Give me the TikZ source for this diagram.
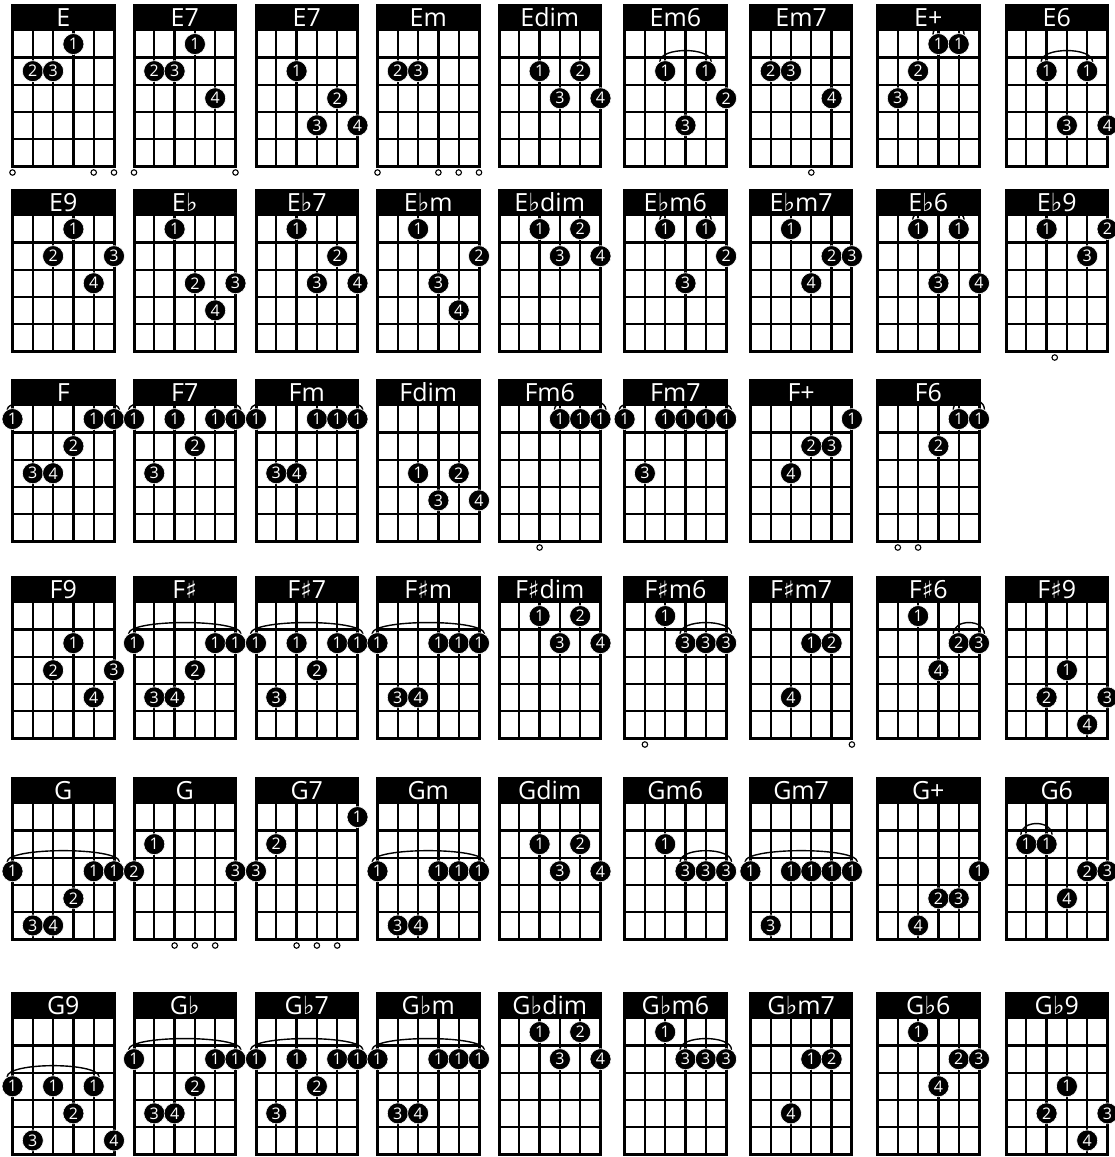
\documentclass[tikz,border=0pt]{standalone}
\usepackage{fontspec}
\setmainfont{Open Sans}
\newfontfamily\musicfont{DejaVu Sans}
\pgfdeclarelayer{arcs}
\pgfsetlayers{arcs,main}
\newcommand{\boxw}{101.5}
\newcommand{\boxh}{161}
\newcommand{\headh}{25.5}
\newcommand{\fretsp}{27.1}
\newcommand{\strsp}{20.3}
\newcommand{\chflat}{{\musicfont\fontsize{25}{25}\selectfont ♭}}
\newcommand{\chsharp}{{\musicfont\fontsize{24}{24}\selectfont ♯}}
\newcommand{\chordgrid}[4]{%
  \fill[chordhead] (#2,#3) rectangle ++(\boxw,\headh);
  \foreach \s in {1,...,4}
    \draw[fretline] ({#2+\s*\strsp},{#3+\headh}) -- ++(0,{5*\fretsp});
  \foreach \f in {1,...,4}
    \draw[fretline] (#2,{#3+\headh+\f*\fretsp}) -- ++(\boxw,0);
  \draw[chordframe] (#2,#3) rectangle ++(\boxw,\boxh);
  \node[chordname] (#1) at ({#2+\boxw/2},{#3+\headh-4.2}) {#4};
  \xdef\gx{#2}\xdef\gy{#3}}
\newcommand{\fing}[4]{\node[fingerdot] (#1) at ({\gx+(#2-1)*\strsp},{\gy+\headh+(#3-0.5)*\fretsp}) {#4};}
\newcommand{\opn}[2]{\node[openstring] (#1) at ({\gx+(#2-1)*\strsp},{\gy+\boxh+6.5}) {};}
\newcommand{\barre}[2]{\begin{pgfonlayer}{arcs}\draw[barrearc] (#1.120) .. controls +(0,-15) and +(0,-15) .. (#2.60);\end{pgfonlayer}}

\begin{document}
\begin{tikzpicture}[
    x=1pt, y=-1pt,
    chordhead/.style={fill=black},
    fretline/.style={line width=2.3pt},
    chordframe/.style={line width=3pt},
    chordname/.style={anchor=base, inner sep=0pt, text=white, font=\fontsize{25}{25}\selectfont},
    fingerdot/.style={circle, fill=black, draw=white, line width=0.6pt, minimum size=21pt, inner sep=0pt, text=white, font=\fontsize{16}{16}\selectfont},
    openstring/.style={circle, draw=black, fill=white, line width=1.1pt, minimum size=5.5pt, inner sep=0pt},
    barrearc/.style={line width=1.4pt}
  ]
  \useasboundingbox (0,0) rectangle (1115,1157);

  \chordgrid{e}{12.5}{5}{E}
  \fing{e-1}{4}{1}{1} \fing{e-2}{2}{2}{2} \fing{e-3}{3}{2}{3}
  \opn{e-o1}{1} \opn{e-o5}{5} \opn{e-o6}{6}

  \chordgrid{esev}{134}{5}{E7}
  \fing{esev-1}{4}{1}{1} \fing{esev-2}{2}{2}{2} \fing{esev-3}{3}{2}{3} \fing{esev-4}{5}{3}{4}
  \opn{esev-o1}{1} \opn{esev-o6}{6}

  \chordgrid{esevb}{256}{5}{E7}
  \fing{esevb-1}{3}{2}{1} \fing{esevb-2}{5}{3}{2} \fing{esevb-3}{4}{4}{3} \fing{esevb-4}{6}{4}{4}

  \chordgrid{em}{377.5}{5}{Em}
  \fing{em-2}{2}{2}{2} \fing{em-3}{3}{2}{3}
  \opn{em-o1}{1} \opn{em-o4}{4} \opn{em-o5}{5} \opn{em-o6}{6}

  \chordgrid{edim}{499}{5}{Edim}
  \fing{edim-1}{3}{2}{1} \fing{edim-2}{5}{2}{2} \fing{edim-3}{4}{3}{3} \fing{edim-4}{6}{3}{4}

  \chordgrid{emsix}{624.6}{5}{Em6}
  \fing{emsix-1a}{3}{2}{1} \fing{emsix-1b}{5}{2}{1} \barre{emsix-1a}{emsix-1b}
  \fing{emsix-2}{6}{3}{2} \fing{emsix-3}{4}{4}{3}

  \chordgrid{emsev}{750.4}{5}{Em7}
  \fing{emsev-2}{2}{2}{2} \fing{emsev-3}{3}{2}{3} \fing{emsev-4}{5}{3}{4}
  \opn{emsev-o4}{4}

  \chordgrid{eaug}{877.5}{5}{E+}
  \fing{eaug-1a}{4}{1}{1} \fing{eaug-1b}{5}{1}{1} \barre{eaug-1a}{eaug-1b}
  \fing{eaug-2}{3}{2}{2} \fing{eaug-3}{2}{3}{3}

  \chordgrid{esix}{1006}{5}{E6}
  \fing{esix-1a}{3}{2}{1} \fing{esix-1b}{5}{2}{1} \barre{esix-1a}{esix-1b}
  \fing{esix-3}{4}{4}{3} \fing{esix-4}{6}{4}{4}

  \chordgrid{enine}{12.5}{190}{E9}
  \fing{enine-1}{4}{1}{1} \fing{enine-2}{3}{2}{2} \fing{enine-3}{6}{2}{3} \fing{enine-4}{5}{3}{4}

  \chordgrid{eb}{134}{190}{E\chflat}
  \fing{eb-1}{3}{1}{1} \fing{eb-2}{4}{3}{2} \fing{eb-3}{6}{3}{3} \fing{eb-4}{5}{4}{4}

  \chordgrid{ebsev}{256}{190}{E\chflat7}
  \fing{ebsev-1}{3}{1}{1} \fing{ebsev-2}{5}{2}{2} \fing{ebsev-3}{4}{3}{3} \fing{ebsev-4}{6}{3}{4}

  \chordgrid{ebm}{377.5}{190}{E\chflat{}m}
  \fing{ebm-1}{3}{1}{1} \fing{ebm-2}{6}{2}{2} \fing{ebm-3}{4}{3}{3} \fing{ebm-4}{5}{4}{4}

  \chordgrid{ebdim}{499}{190}{E\chflat{}dim}
  \fing{ebdim-1}{3}{1}{1} \fing{ebdim-2}{5}{1}{2} \fing{ebdim-3}{4}{2}{3} \fing{ebdim-4}{6}{2}{4}

  \chordgrid{ebmsix}{624.6}{190}{E\chflat{}m6}
  \fing{ebmsix-1a}{3}{1}{1} \fing{ebmsix-1b}{5}{1}{1} \barre{ebmsix-1a}{ebmsix-1b}
  \fing{ebmsix-2}{6}{2}{2} \fing{ebmsix-3}{4}{3}{3}

  \chordgrid{ebmsev}{750.4}{190}{E\chflat{}m7}
  \fing{ebmsev-1}{3}{1}{1} \fing{ebmsev-2}{5}{2}{2} \fing{ebmsev-3}{6}{2}{3} \fing{ebmsev-4}{4}{3}{4}

  \chordgrid{ebsix}{877.5}{190}{E\chflat6}
  \fing{ebsix-1a}{3}{1}{1} \fing{ebsix-1b}{5}{1}{1} \barre{ebsix-1a}{ebsix-1b}
  \fing{ebsix-3}{4}{3}{3} \fing{ebsix-4}{6}{3}{4}

  \chordgrid{ebnine}{1006}{190}{E\chflat9}
  \fing{ebnine-1}{3}{1}{1} \fing{ebnine-2}{6}{1}{2} \fing{ebnine-3}{5}{2}{3}
  \opn{ebnine-o}{3.4}

  \chordgrid{f}{12.5}{380}{F}
  \fing{f-1a}{1}{1}{1} \fing{f-1b}{5}{1}{1} \fing{f-1c}{6}{1}{1} \barre{f-1a}{f-1c}
  \fing{f-2}{4}{2}{2} \fing{f-3}{2}{3}{3} \fing{f-4}{3}{3}{4}

  \chordgrid{fsev}{134}{380}{F7}
  \fing{fsev-1a}{1}{1}{1} \fing{fsev-1b}{3}{1}{1} \fing{fsev-1c}{5}{1}{1} \fing{fsev-1d}{6}{1}{1} \barre{fsev-1a}{fsev-1d}
  \fing{fsev-2}{4}{2}{2} \fing{fsev-3}{2}{3}{3}

  \chordgrid{fm}{256}{380}{Fm}
  \fing{fm-1a}{1}{1}{1} \fing{fm-1b}{4}{1}{1} \fing{fm-1c}{5}{1}{1} \fing{fm-1d}{6}{1}{1} \barre{fm-1a}{fm-1d}
  \fing{fm-3}{2}{3}{3} \fing{fm-4}{3}{3}{4}

  \chordgrid{fdim}{377.5}{380}{Fdim}
  \fing{fdim-1}{3}{3}{1} \fing{fdim-2}{5}{3}{2} \fing{fdim-3}{4}{4}{3} \fing{fdim-4}{6}{4}{4}

  \chordgrid{fmsix}{499}{380}{Fm6}
  \fing{fmsix-1a}{4}{1}{1} \fing{fmsix-1b}{5}{1}{1} \fing{fmsix-1c}{6}{1}{1} \barre{fmsix-1a}{fmsix-1c}
  \opn{fmsix-o3}{3}

  \chordgrid{fmsev}{624.6}{380}{Fm7}
  \fing{fmsev-1a}{1}{1}{1} \fing{fmsev-1b}{3}{1}{1} \fing{fmsev-1c}{4}{1}{1} \fing{fmsev-1d}{5}{1}{1} \fing{fmsev-1e}{6}{1}{1} \barre{fmsev-1a}{fmsev-1e}
  \fing{fmsev-3}{2}{3}{3}

  \chordgrid{faug}{750.4}{380}{F+}
  \fing{faug-1}{6}{1}{1} \fing{faug-2}{4}{2}{2} \fing{faug-3}{5}{2}{3} \fing{faug-4}{3}{3}{4}

  \chordgrid{fsix}{877.5}{380}{F6}
  \fing{fsix-1a}{5}{1}{1} \fing{fsix-1b}{6}{1}{1} \barre{fsix-1a}{fsix-1b}
  \fing{fsix-2}{4}{2}{2}
  \opn{fsix-o2}{2} \opn{fsix-o3}{3}

  \chordgrid{fnine}{12.5}{577}{F9}
  \fing{fnine-1}{4}{2}{1} \fing{fnine-2}{3}{3}{2} \fing{fnine-3}{6}{3}{3} \fing{fnine-4}{5}{4}{4}

  \chordgrid{fs}{134}{577}{F\chsharp}
  \fing{fs-1a}{1}{2}{1} \fing{fs-1b}{5}{2}{1} \fing{fs-1c}{6}{2}{1} \barre{fs-1a}{fs-1c}
  \fing{fs-2}{4}{3}{2} \fing{fs-3}{2}{4}{3} \fing{fs-4}{3}{4}{4}

  \chordgrid{fssev}{256}{577}{F\chsharp7}
  \fing{fssev-1a}{1}{2}{1} \fing{fssev-1b}{3}{2}{1} \fing{fssev-1c}{5}{2}{1} \fing{fssev-1d}{6}{2}{1} \barre{fssev-1a}{fssev-1d}
  \fing{fssev-2}{4}{3}{2} \fing{fssev-3}{2}{4}{3}

  \chordgrid{fsm}{377.5}{577}{F\chsharp{}m}
  \fing{fsm-1a}{1}{2}{1} \fing{fsm-1b}{4}{2}{1} \fing{fsm-1c}{5}{2}{1} \fing{fsm-1d}{6}{2}{1} \barre{fsm-1a}{fsm-1d}
  \fing{fsm-3}{2}{4}{3} \fing{fsm-4}{3}{4}{4}

  \chordgrid{fsdim}{499}{577}{F\chsharp{}dim}
  \fing{fsdim-1}{3}{1}{1} \fing{fsdim-2}{5}{1}{2} \fing{fsdim-3}{4}{2}{3} \fing{fsdim-4}{6}{2}{4}

  \chordgrid{fsmsix}{624.6}{577}{F\chsharp{}m6}
  \fing{fsmsix-1}{3}{1}{1}
  \fing{fsmsix-3a}{4}{2}{3} \fing{fsmsix-3b}{5}{2}{3} \fing{fsmsix-3c}{6}{2}{3} \barre{fsmsix-3a}{fsmsix-3c}
  \opn{fsmsix-o2}{2}

  \chordgrid{fsmsev}{750.4}{577}{F\chsharp{}m7}
  \fing{fsmsev-1}{4}{2}{1} \fing{fsmsev-2}{5}{2}{2} \fing{fsmsev-4}{3}{4}{4}
  \opn{fsmsev-o6}{6}

  \chordgrid{fssix}{877.5}{577}{F\chsharp6}
  \fing{fssix-1}{3}{1}{1} \fing{fssix-2}{5}{2}{2} \fing{fssix-3}{6}{2}{3} \barre{fssix-2}{fssix-3}
  \fing{fssix-4}{4}{3}{4}

  \chordgrid{fsnine}{1006}{577}{F\chsharp9}
  \fing{fsnine-1}{4}{3}{1} \fing{fsnine-2}{3}{4}{2} \fing{fsnine-3}{6}{4}{3} \fing{fsnine-4}{5}{5}{4}

  \chordgrid{g}{12.5}{778}{G}
  \fing{g-1a}{1}{3}{1} \fing{g-1b}{5}{3}{1} \fing{g-1c}{6}{3}{1} \barre{g-1a}{g-1c}
  \fing{g-2}{4}{4}{2} \fing{g-3}{2}{5}{3} \fing{g-4}{3}{5}{4}

  \chordgrid{gopen}{134}{778}{G}
  \fing{gopen-1}{2}{2}{1} \fing{gopen-2}{1}{3}{2} \fing{gopen-3}{6}{3}{3}
  \opn{gopen-o3}{3} \opn{gopen-o4}{4} \opn{gopen-o5}{5}

  \chordgrid{gsev}{256}{778}{G7}
  \fing{gsev-1}{6}{1}{1} \fing{gsev-2}{2}{2}{2} \fing{gsev-3}{1}{3}{3}
  \opn{gsev-o3}{3} \opn{gsev-o4}{4} \opn{gsev-o5}{5}

  \chordgrid{gm}{377.5}{778}{Gm}
  \fing{gm-1a}{1}{3}{1} \fing{gm-1b}{4}{3}{1} \fing{gm-1c}{5}{3}{1} \fing{gm-1d}{6}{3}{1} \barre{gm-1a}{gm-1d}
  \fing{gm-3}{2}{5}{3} \fing{gm-4}{3}{5}{4}

  \chordgrid{gdim}{499}{778}{Gdim}
  \fing{gdim-1}{3}{2}{1} \fing{gdim-2}{5}{2}{2} \fing{gdim-3}{4}{3}{3} \fing{gdim-4}{6}{3}{4}

  \chordgrid{gmsix}{624.6}{778}{Gm6}
  \fing{gmsix-1}{3}{2}{1}
  \fing{gmsix-3a}{4}{3}{3} \fing{gmsix-3b}{5}{3}{3} \fing{gmsix-3c}{6}{3}{3} \barre{gmsix-3a}{gmsix-3c}

  \chordgrid{gmsev}{750.4}{778}{Gm7}
  \fing{gmsev-1a}{1}{3}{1} \fing{gmsev-1b}{3}{3}{1} \fing{gmsev-1c}{4}{3}{1} \fing{gmsev-1d}{5}{3}{1} \fing{gmsev-1e}{6}{3}{1} \barre{gmsev-1a}{gmsev-1e}
  \fing{gmsev-3}{2}{5}{3}

  \chordgrid{gaug}{877.5}{778}{G+}
  \fing{gaug-1}{6}{3}{1} \fing{gaug-2}{4}{4}{2} \fing{gaug-3}{5}{4}{3} \fing{gaug-4}{3}{5}{4}

  \chordgrid{gsix}{1006}{778}{G6}
  \fing{gsix-1a}{2}{2}{1} \fing{gsix-1b}{3}{2}{1} \barre{gsix-1a}{gsix-1b}
  \fing{gsix-2}{5}{3}{2} \fing{gsix-3}{6}{3}{3} \fing{gsix-4}{4}{4}{4}

  \chordgrid{gnine}{12.5}{993}{G9}
  \fing{gnine-1a}{1}{3}{1} \fing{gnine-1b}{3}{3}{1} \fing{gnine-1c}{5}{3}{1} \barre{gnine-1a}{gnine-1c}
  \fing{gnine-2}{4}{4}{2} \fing{gnine-3}{2}{5}{3} \fing{gnine-4}{6}{5}{4}

  \chordgrid{gb}{134}{993}{G\chflat}
  \fing{gb-1a}{1}{2}{1} \fing{gb-1b}{5}{2}{1} \fing{gb-1c}{6}{2}{1} \barre{gb-1a}{gb-1c}
  \fing{gb-2}{4}{3}{2} \fing{gb-3}{2}{4}{3} \fing{gb-4}{3}{4}{4}

  \chordgrid{gbsev}{256}{993}{G\chflat7}
  \fing{gbsev-1a}{1}{2}{1} \fing{gbsev-1b}{3}{2}{1} \fing{gbsev-1c}{5}{2}{1} \fing{gbsev-1d}{6}{2}{1} \barre{gbsev-1a}{gbsev-1d}
  \fing{gbsev-2}{4}{3}{2} \fing{gbsev-3}{2}{4}{3}

  \chordgrid{gbm}{377.5}{993}{G\chflat{}m}
  \fing{gbm-1a}{1}{2}{1} \fing{gbm-1b}{4}{2}{1} \fing{gbm-1c}{5}{2}{1} \fing{gbm-1d}{6}{2}{1} \barre{gbm-1a}{gbm-1d}
  \fing{gbm-3}{2}{4}{3} \fing{gbm-4}{3}{4}{4}

  \chordgrid{gbdim}{499}{993}{G\chflat{}dim}
  \fing{gbdim-1}{3}{1}{1} \fing{gbdim-2}{5}{1}{2} \fing{gbdim-3}{4}{2}{3} \fing{gbdim-4}{6}{2}{4}

  \chordgrid{gbmsix}{624.6}{993}{G\chflat{}m6}
  \fing{gbmsix-1}{3}{1}{1}
  \fing{gbmsix-3a}{4}{2}{3} \fing{gbmsix-3b}{5}{2}{3} \fing{gbmsix-3c}{6}{2}{3} \barre{gbmsix-3a}{gbmsix-3c}
  \opn{gbmsix-o2}{2}

  \chordgrid{gbmsev}{750.4}{993}{G\chflat{}m7}
  \fing{gbmsev-1}{4}{2}{1} \fing{gbmsev-2}{5}{2}{2} \fing{gbmsev-4}{3}{4}{4}
  \opn{gbmsev-o6}{6}

  \chordgrid{gbsix}{877.5}{993}{G\chflat6}
  \fing{gbsix-1}{3}{1}{1} \fing{gbsix-2}{5}{2}{2} \fing{gbsix-3}{6}{2}{3} \fing{gbsix-4}{4}{3}{4}

  \chordgrid{gbnine}{1006}{993}{G\chflat9}
  \fing{gbnine-1}{4}{3}{1} \fing{gbnine-2}{3}{4}{2} \fing{gbnine-3}{6}{4}{3} \fing{gbnine-4}{5}{5}{4}
\end{tikzpicture}
\end{document}
